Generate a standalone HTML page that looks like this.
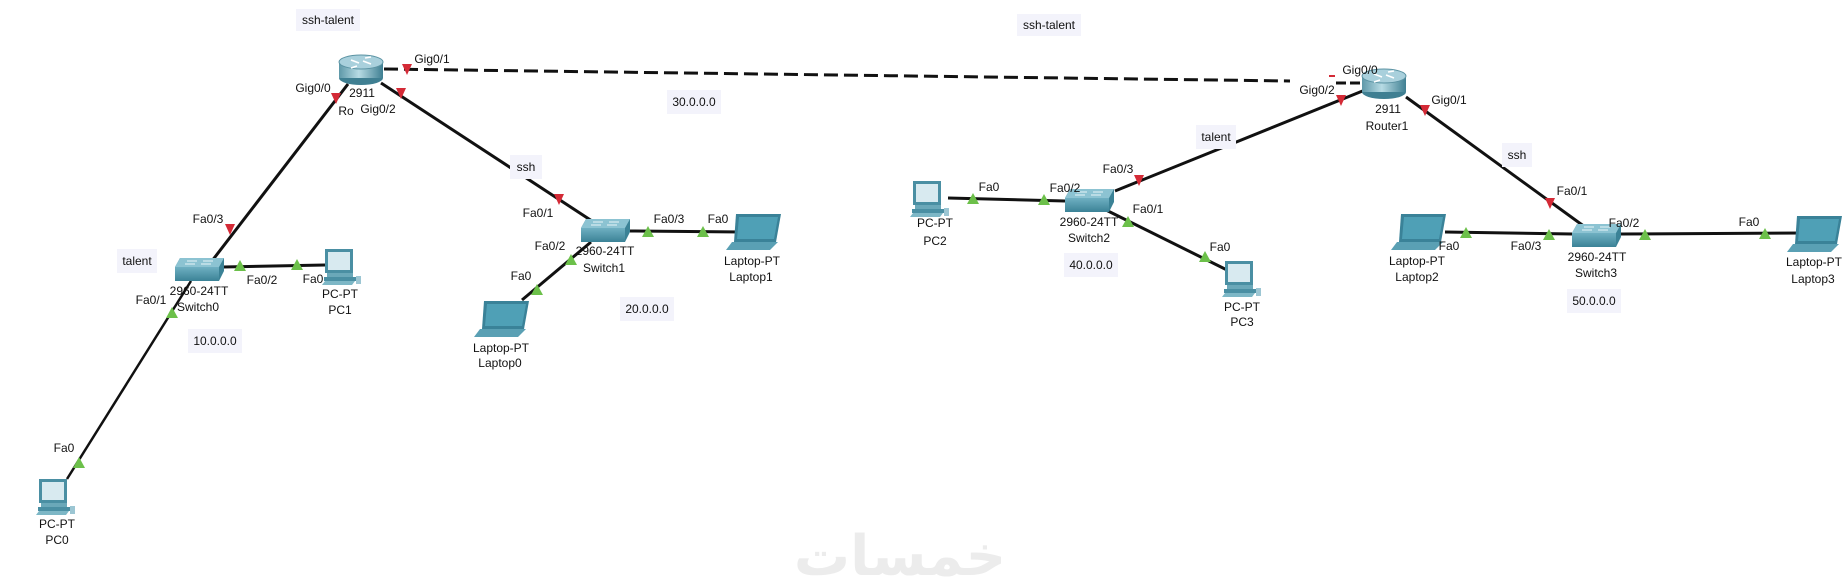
<!DOCTYPE html>
<html><head><meta charset="utf-8"><style>
html,body{margin:0;padding:0;background:#fff;}
svg{display:block;}
text{font-family:"Liberation Sans",Arial,sans-serif;font-size:12px;fill:#111;}
</style></head><body>
<svg id="s" width="1847" height="585" viewBox="0 0 1847 585" xmlns="http://www.w3.org/2000/svg">
<defs>
<linearGradient id="rg" x1="0" x2="1" y1="0" y2="0">
<stop offset="0" stop-color="#5e98a8"/><stop offset="0.45" stop-color="#b7dbe4"/><stop offset="1" stop-color="#3f7f92"/></linearGradient>
<linearGradient id="sg" x1="0" x2="0" y1="0" y2="1">
<stop offset="0" stop-color="#6fb0c2"/><stop offset="1" stop-color="#3b8296"/></linearGradient>
</defs>
<g stroke="#111" stroke-width="3" fill="none">
<line x1="384" y1="69" x2="1290" y2="81" stroke-dasharray="14,6"/>
<line x1="1336" y1="83" x2="1362" y2="83" stroke-dasharray="10,4"/>
<line x1="348" y1="84" x2="205" y2="270"/>
<line x1="191" y1="281" x2="67" y2="479" stroke-width="2.5"/>
<line x1="223" y1="267" x2="325" y2="265"/>
<line x1="381" y1="83" x2="592" y2="221"/>
<line x1="630" y1="231" x2="742" y2="232"/>
<line x1="591" y1="242" x2="522" y2="300"/>
<line x1="948" y1="198" x2="1065" y2="201"/>
<line x1="1115" y1="191" x2="1365" y2="90"/>
<line x1="1106" y1="210" x2="1227" y2="270"/>
<line x1="1406" y1="97" x2="1585" y2="227"/>
<line x1="1445" y1="232" x2="1572" y2="234"/>
<line x1="1621" y1="234" x2="1804" y2="233"/>
</g>
<g id="marks"></g>
<g id="icons"></g>
<g fill="#f3f3fb">
<rect x="296" y="9" width="64" height="22"/>
<rect x="1017" y="14" width="64" height="22"/>
<rect x="117" y="249" width="40" height="24"/>
<rect x="510" y="155" width="32" height="24"/>
<rect x="1196" y="125" width="40" height="24"/>
<rect x="1502" y="143" width="30" height="24"/>
<rect x="667" y="90" width="54" height="24"/>
<rect x="620" y="297" width="54" height="24"/>
<rect x="188" y="329" width="54" height="24"/>
<rect x="1064" y="253" width="54" height="24"/>
<rect x="1567" y="289" width="54" height="24"/>
</g>
<g text-anchor="middle">
<text x="328" y="24">ssh-talent</text>
<text x="1049" y="29">ssh-talent</text>
<text x="137" y="265">talent</text>
<text x="526" y="171">ssh</text>
<text x="1216" y="141">talent</text>
<text x="1517" y="159">ssh</text>
<text x="694" y="106">30.0.0.0</text>
<text x="647" y="313">20.0.0.0</text>
<text x="215" y="345">10.0.0.0</text>
<text x="1091" y="269">40.0.0.0</text>
<text x="1594" y="305">50.0.0.0</text>
<text x="362" y="97">2911</text><text x="346" y="115">Ro</text>
<text x="1388" y="113">2911</text><text x="1387" y="130">Router1</text>
<text x="199" y="295">2960-24TT</text><text x="198" y="311">Switch0</text>
<text x="605" y="255">2960-24TT</text><text x="604" y="272">Switch1</text>
<text x="1089" y="226">2960-24TT</text><text x="1089" y="242">Switch2</text>
<text x="1597" y="261">2960-24TT</text><text x="1596" y="277">Switch3</text>
<text x="57" y="528">PC-PT</text><text x="57" y="544">PC0</text>
<text x="340" y="298">PC-PT</text><text x="340" y="314">PC1</text>
<text x="935" y="227">PC-PT</text><text x="935" y="245">PC2</text>
<text x="1242" y="311">PC-PT</text><text x="1242" y="326">PC3</text>
<text x="501" y="352">Laptop-PT</text><text x="500" y="367">Laptop0</text>
<text x="752" y="265">Laptop-PT</text><text x="751" y="281">Laptop1</text>
<text x="1417" y="265">Laptop-PT</text><text x="1417" y="281">Laptop2</text>
<text x="1814" y="266">Laptop-PT</text><text x="1813" y="283">Laptop3</text>
<text x="313" y="92">Gig0/0</text><text x="378" y="113">Gig0/2</text><text x="432" y="63">Gig0/1</text>
<text x="208" y="223">Fa0/3</text><text x="151" y="304">Fa0/1</text><text x="262" y="284">Fa0/2</text><text x="313" y="283">Fa0</text>
<text x="64" y="452">Fa0</text>
<text x="538" y="217">Fa0/1</text><text x="550" y="250">Fa0/2</text><text x="521" y="280">Fa0</text>
<text x="669" y="223">Fa0/3</text><text x="718" y="223">Fa0</text>
<text x="989" y="191">Fa0</text><text x="1065" y="192">Fa0/2</text><text x="1118" y="173">Fa0/3</text><text x="1148" y="213">Fa0/1</text><text x="1220" y="251">Fa0</text>
<text x="1317" y="94">Gig0/2</text><text x="1360" y="74">Gig0/0</text><text x="1449" y="104">Gig0/1</text>
<text x="1572" y="195">Fa0/1</text><text x="1624" y="227">Fa0/2</text><text x="1526" y="250">Fa0/3</text><text x="1449" y="250">Fa0</text><text x="1749" y="226">Fa0</text>
</g>
<text x="900" y="575" text-anchor="middle" style="font-family:'Noto Sans CJK SC','DejaVu Sans',sans-serif;font-size:56px;fill:#ececec;font-weight:bold">خمسات</text>
</svg>
<script>
var NS="http://www.w3.org/2000/svg";
function el(p,t,a){var e=document.createElementNS(NS,t);for(var k in a)e.setAttribute(k,a[k]);p.appendChild(e);return e;}
var m=document.getElementById("marks");
var red=[[336,98],[230,229],[401,93],[559,199],[407,69],[1341,100],[1425,110],[1139,180],[1550,203]];
var green=[[172,313],[79,463],[240,266],[297,265],[571,260],[537,290],[648,232],[703,232],[973,199],[1044,200],[1128,222],[1205,257],[1466,233],[1549,235],[1645,235],[1765,234]];
red.forEach(function(p){el(m,"polygon",{points:(p[0]-5)+","+(p[1]-5)+" "+(p[0]+5)+","+(p[1]-5)+" "+p[0]+","+(p[1]+6),fill:"#d42a36"});});
green.forEach(function(p){el(m,"polygon",{points:(p[0]-6)+","+(p[1]+5)+" "+(p[0]+6)+","+(p[1]+5)+" "+p[0]+","+(p[1]-6),fill:"#6cc04a"});});
el(m,"line",{x1:1329,y1:76,x2:1335,y2:76,stroke:"#d42a36","stroke-width":2});
var g=document.getElementById("icons");
function router(cx,cy){
 el(g,"ellipse",{cx:cx,cy:cy+8,rx:22,ry:7,fill:"#3f7f92"});
 el(g,"rect",{x:cx-22,y:cy-8,width:44,height:16,fill:"url(#rg)"});
 el(g,"ellipse",{cx:cx,cy:cy-8,rx:22,ry:7,fill:"#a9d0dc",stroke:"#5b93a3"});
 el(g,"path",{d:"M"+(cx-10)+" "+(cy-10)+"l8 3M"+(cx+10)+" "+(cy-6)+"l-8 -3M"+(cx-4)+" "+(cy-4)+"l-6 2M"+(cx+4)+" "+(cy-12)+"l6 -1",stroke:"#fff","stroke-width":1.5});
}
function sw(x,y){
 el(g,"polygon",{points:(x+5)+","+y+" "+(x+49)+","+y+" "+(x+49)+","+(y+13)+" "+(x+44)+","+(y+23)+" "+x+","+(y+23)+" "+x+","+(y+9),fill:"#3b8296"});
 el(g,"polygon",{points:(x+5)+","+y+" "+(x+49)+","+y+" "+(x+44)+","+(y+9)+" "+x+","+(y+9),fill:"#8cc3d2"});
 el(g,"rect",{x:x,y:y+9,width:44,height:14,fill:"url(#sg)"});
 el(g,"path",{d:"M"+(x+12)+" "+(y+3)+"h10M"+(x+28)+" "+(y+3)+"h10M"+(x+10)+" "+(y+6)+"h10M"+(x+26)+" "+(y+6)+"h10",stroke:"#e8f4f8","stroke-width":1});
}
function pc(x,y){
 el(g,"rect",{x:x+3,y:y,width:28,height:24,fill:"#4a8fa3"});
 el(g,"rect",{x:x+6,y:y+3,width:22,height:18,fill:"#d8eaf0"});
 el(g,"rect",{x:x+5,y:y+24,width:26,height:4,fill:"#6aa8b9"});
 el(g,"rect",{x:x+2,y:y+28,width:32,height:4,fill:"#4a8fa3"});
 el(g,"polygon",{points:(x)+","+(y+36)+" "+(x+3)+","+(y+32)+" "+(x+33)+","+(y+32)+" "+(x+30)+","+(y+36),fill:"#7db7c6"});
 el(g,"rect",{x:x+34,y:y+27,width:5,height:8,fill:"#9cc6d3"});
}
function lap(x,y){
 el(g,"polygon",{points:(x+10)+","+y+" "+(x+55)+","+y+" "+(x+50)+","+(y+28)+" "+(x+8)+","+(y+28),fill:"#3a8298"});
 el(g,"polygon",{points:(x+13)+","+(y+3)+" "+(x+52)+","+(y+3)+" "+(x+48)+","+(y+25)+" "+(x+11)+","+(y+25),fill:"#4fa0b6"});
 el(g,"polygon",{points:(x+6)+","+(y+28)+" "+(x+52)+","+(y+28)+" "+(x+44)+","+(y+36)+" "+x+","+(y+36),fill:"#5aa0b4"});
}
router(361,70);router(1384,84);
sw(175,258);sw(581,219);sw(1065,189);sw(1572,224);
pc(36,479);pc(322,249);pc(910,181);pc(1222,261);
lap(474,301);lap(726,214);lap(1391,214);lap(1787,216);
</script>
</body></html>
